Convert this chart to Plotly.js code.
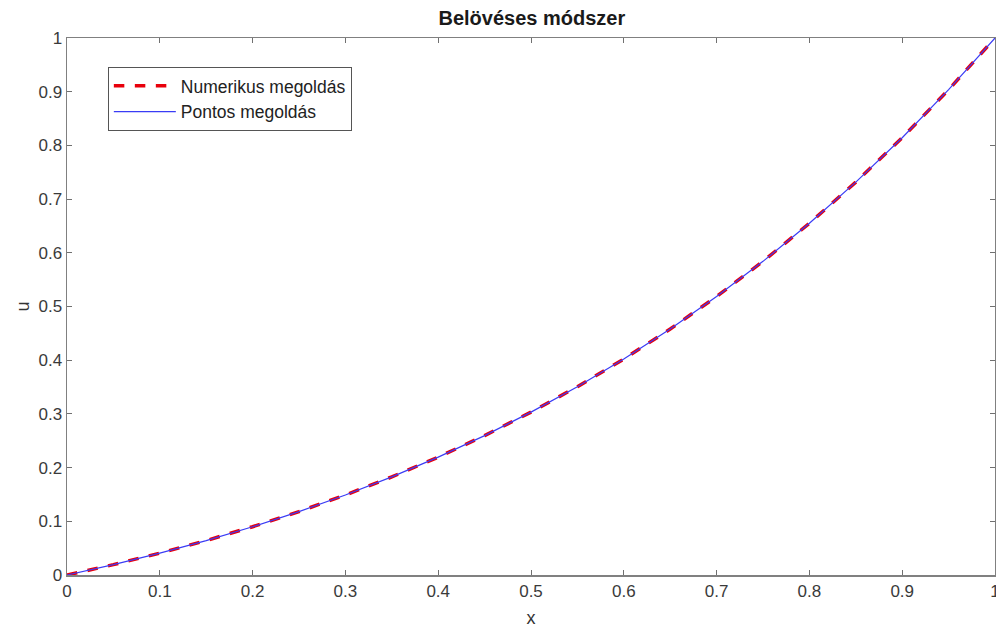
<!DOCTYPE html>
<html>
<head>
<meta charset="utf-8">
<script src="https://cdn.plot.ly/plotly-3.0.1.min.js"></script>
<style>html,body{margin:0;padding:0;background:#fff;}#chart{width:996px;height:628px;}</style>
</head>
<body>
<div id="chart"></div>
<script>
const xValues = [0, 0.05, 0.1, 0.15, 0.2, 0.25, 0.3, 0.35, 0.4, 0.45, 0.5, 0.55, 0.6, 0.65, 0.7, 0.75, 0.8, 0.85, 0.9, 0.95, 1];
const numericValues = [0, 0.0193, 0.0407, 0.0641, 0.0899, 0.1181, 0.1490, 0.1827, 0.2195, 0.2596, 0.3033, 0.3507, 0.4022, 0.4580, 0.5186, 0.5841, 0.6550, 0.7316, 0.8143, 0.9037, 1];
const exactValues = [0, 0.0193, 0.0407, 0.0641, 0.0899, 0.1181, 0.1490, 0.1827, 0.2195, 0.2596, 0.3033, 0.3507, 0.4022, 0.4580, 0.5186, 0.5841, 0.6550, 0.7316, 0.8143, 0.9037, 1];
const seriesNames = ["Numerikus megoldás", "Pontos megoldás"];
const tickVals = [0, 0.1, 0.2, 0.3, 0.4, 0.5, 0.6, 0.7, 0.8, 0.9, 1];
const tickText = ["0", "0.1", "0.2", "0.3", "0.4", "0.5", "0.6", "0.7", "0.8", "0.9", "1"];

const font = "Liberation Sans, Arial, Helvetica, sans-serif";
const axisCommon = {
  range: [0, 1],
  tickvals: tickVals,
  ticktext: tickText,
  ticks: "inside",
  ticklen: 5,
  tickwidth: 1,
  tickcolor: "#707070",
  showline: true,
  linecolor: "#808080",
  linewidth: 1.5,
  mirror: "ticks",
  showgrid: false,
  zeroline: false,
  ticklabeloverflow: "allow",
  tickfont: {family: font, size: 17, color: "#3a3a3a"}
};

const data = [
  {x: xValues, y: numericValues, type: "scatter", mode: "lines", name: seriesNames[0],
   line: {color: "#e8000b", width: 3.5, dash: "dash"}},
  {x: xValues, y: exactValues, type: "scatter", mode: "lines", name: seriesNames[1],
   line: {color: "#3a3cf5", width: 1.2}}
];

const layout = {
  width: 996, height: 628,
  margin: {l: 67, r: 1, t: 38, b: 53},
  paper_bgcolor: "#ffffff", plot_bgcolor: "#ffffff",
  title: {text: "<b>Belövéses módszer</b>", font: {family: font, size: 20, color: "#1a1a1a"}, x: 0.534, xanchor: "center", y: 0.972, yanchor: "middle"},
  xaxis: Object.assign({}, axisCommon, {title: {text: "x", font: {family: font, size: 18, color: "#333"}, standoff: 11}}),
  yaxis: Object.assign({}, axisCommon, {title: {text: "u", font: {family: font, size: 18, color: "#333"}, standoff: 4}}),
  showlegend: true,
  legend: {x: 0.044, y: 0.946, xanchor: "left", yanchor: "top", bgcolor: "#ffffff",
    bordercolor: "#555555", borderwidth: 1, font: {family: font, size: 17.5, color: "#222"},
    itemwidth: 62, tracegroupgap: 0}
};

Plotly.newPlot("chart", data, layout, {displayModeBar: false, staticPlot: true});
</script>
</body>
</html>
